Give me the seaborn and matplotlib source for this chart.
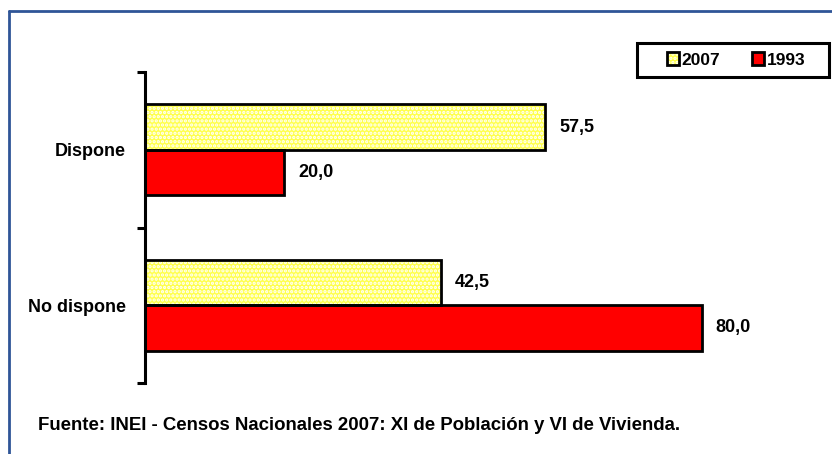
import pandas as pd
import matplotlib.pyplot as plt
import seaborn as sns
from matplotlib.lines import Line2D
from matplotlib.patches import Patch, Rectangle
from matplotlib.legend_handler import HandlerTuple

categories = ["Dispone", "No dispone"]
years = ["2007", "1993"]
values_2007 = [57.5, 42.5]
values_1993 = [20.0, 80.0]
footer = "Fuente: INEI - Censos Nacionales 2007: XI de Población y VI de Vivienda."

df = pd.DataFrame({
    "Categoria": categories * 2,
    "Año": [years[0]] * 2 + [years[1]] * 2,
    "Valor": values_2007 + values_1993,
})

sns.set_theme(style="white")
plt.rcParams['font.family'] = ['Liberation Sans', 'DejaVu Sans']
plt.rcParams['font.weight'] = 'bold'
plt.rcParams['text.color'] = 'black'
plt.rcParams['ytick.color'] = 'black'
plt.rcParams['ytick.labelcolor'] = 'black'
plt.rcParams['hatch.linewidth'] = 1.6

colors = {"2007": "#FFFF4D", "1993": "#FF0000"}

fig = plt.figure(figsize=(8.32, 4.54), dpi=100)
ax = fig.add_axes([145 / 832, 1 - 383 / 454, 0.82, (383 - 72) / 454])

sns.barplot(data=df, y="Categoria", x="Valor", hue="Año", hue_order=years,
            order=categories, palette=colors, orient="h", width=0.585,
            edgecolor="black", linewidth=2, saturation=1, ax=ax, legend=False)

# 2007 bars: white dotted pattern on yellow, black outline drawn on top
for cont, yr in zip(ax.containers, years):
    if yr == "2007":
        for bar in cont:
            bar.set_hatch("....")
            bar.set_edgecolor("white")
            bar.set_linewidth(0)
            ax.add_patch(Rectangle(bar.get_xy(), bar.get_width(), bar.get_height(),
                                   fill=False, edgecolor="black", linewidth=2, zorder=bar.get_zorder() + 0.1))
    labels = [f"{v:.1f}".replace(".", ",") for v in cont.datavalues]
    ax.bar_label(cont, labels=labels, padding=10, fontsize=13, fontweight='bold')

ax.set_xlim(0, 98)
ax.set_ylim(1.5, -0.5)
ax.set_xlabel("")
ax.set_ylabel("")
ax.set_xticks([])
for s in ["top", "right", "bottom"]:
    ax.spines[s].set_visible(False)
ax.spines["left"].set_color("black")
ax.spines["left"].set_linewidth(2.2)

ax.set_yticks([-0.5, 0.5, 1.5], minor=True)
ax.tick_params(axis="y", which="minor", left=True, length=6, width=2.2, color="black", direction="out")
ax.tick_params(axis="y", which="major", left=False, length=0, pad=14, labelsize=13)
for t in ax.get_yticklabels():
    t.set_fontweight('bold')

# legend: frame drawn as a figure rectangle, entries centred inside
lx0, lx1, ly0, ly1 = 637, 829, 43, 77
fig.add_artist(Rectangle((lx0 / 832, 1 - ly1 / 454), (lx1 - lx0) / 832, (ly1 - ly0) / 454,
                         transform=fig.transFigure, fill=True, facecolor="white",
                         edgecolor="black", linewidth=2.2, zorder=5))
h2007 = (Patch(facecolor=colors["2007"], edgecolor="white", linewidth=0, hatch="...."),
         Patch(fill=False, edgecolor="black", linewidth=2))
h1993 = Patch(facecolor=colors["1993"], edgecolor="black", linewidth=2)
leg = fig.legend([h2007, h1993], years, loc="center",
                 bbox_to_anchor=((lx0 + lx1 + 6) / 2 / 832, 1 - (ly0 + ly1) / 2 / 454),
                 ncol=2, frameon=False, handlelength=0.7, handleheight=0.8,
                 handletextpad=0.15, columnspacing=1.8, borderpad=0, borderaxespad=0,
                 handler_map={tuple: HandlerTuple(ndivide=1, pad=0)},
                 prop={'weight': 'bold', 'size': 12.5})
leg.set_zorder(6)

# footer
fig.text(38 / 832, 1 - 425 / 454, footer, fontsize=13.4, fontweight='bold', va="center", ha="left")

# blue frame lines (top and left)
blue = "#2F5597"
fig.add_artist(Line2D([9 / 832, 1.0], [1 - 11 / 454, 1 - 11 / 454], color=blue, linewidth=2))
fig.add_artist(Line2D([9 / 832, 9 / 832], [0.0, 1 - 11 / 454], color=blue, linewidth=2))

fig.savefig("out.png", dpi=100)
